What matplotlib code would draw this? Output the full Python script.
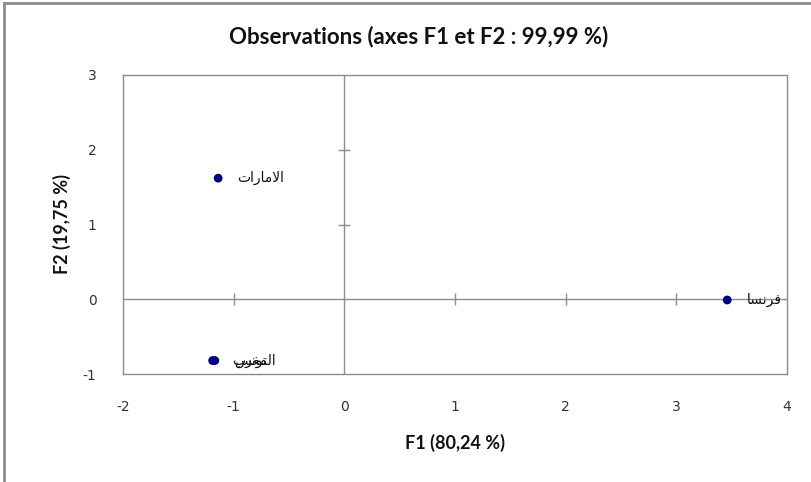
import matplotlib
matplotlib.use("Agg")
import matplotlib.pyplot as plt
from matplotlib.lines import Line2D

plt.rcParams["axes.unicode_minus"] = False

# ---- data ----
labels = ["الامارات", "فرنسا", "المغرب", "تونس"]
f1 = [-1.14, 3.46, -1.19, -1.17]
f2 = [1.62, -0.01, -0.82, -0.82]
xticks = [-2, -1, 0, 1, 2, 3, 4]
yticks = [-1, 0, 1, 2, 3]
title = "Observations (axes F1 et F2 : 99,99 %)"
xlabel = "F1 (80,24 %)"
ylabel = "F2 (19,75 %)"

# ---- minimal Arabic shaping (presentation forms) ----
FORMS = {  # isolated, final, initial, medial
    "ا": (0xFE8D, 0xFE8E, None, None),
    "ب": (0xFE8F, 0xFE90, 0xFE91, 0xFE92),
    "ت": (0xFE95, 0xFE96, 0xFE97, 0xFE98),
    "ر": (0xFEAD, 0xFEAE, None, None),
    "س": (0xFEB1, 0xFEB2, 0xFEB3, 0xFEB4),
    "غ": (0xFECD, 0xFECE, 0xFECF, 0xFED0),
    "ف": (0xFED1, 0xFED2, 0xFED3, 0xFED4),
    "ل": (0xFEDD, 0xFEDE, 0xFEDF, 0xFEE0),
    "م": (0xFEE1, 0xFEE2, 0xFEE3, 0xFEE4),
    "ن": (0xFEE5, 0xFEE6, 0xFEE7, 0xFEE8),
    "و": (0xFEED, 0xFEEE, None, None),
}


def dual(c):
    return c in FORMS and FORMS[c][2] is not None


def shape(word):
    out = []
    i = 0
    n = len(word)
    while i < n:
        c = word[i]
        prev = word[i - 1] if i > 0 else None
        jp = prev is not None and dual(prev)
        if c == "ل" and i + 1 < n and word[i + 1] == "ا":
            out.append(chr(0xFEFC if jp else 0xFEFB))
            i += 2
            continue
        nxt = word[i + 1] if i + 1 < n else None
        jn = nxt is not None and nxt in FORMS and dual(c)
        iso, fin, ini, med = FORMS[c]
        if jp and jn:
            code = med
        elif jp:
            code = fin
        elif jn:
            code = ini
        else:
            code = iso
        out.append(chr(code))
        i += 1
    return "".join(reversed(out))


W, H = 811, 482
fig = plt.figure(figsize=(W / 100, H / 100), dpi=100)
fig.patch.set_facecolor("white")

# plot area in pixel coordinates
L, R, T, B = 123, 787, 75, 374
ax = fig.add_axes([L / W, 1 - B / H, (R - L) / W, (B - T) / H])
ax.set_xlim(xticks[0], xticks[-1])
ax.set_ylim(yticks[0], yticks[-1])
ax.set_xticks(xticks)
ax.set_yticks(yticks)
for s in ax.spines.values():
    s.set_color("#8c8c8c")
    s.set_linewidth(1.0)
ax.tick_params(length=0, labelsize=10, colors="#333333")
ax.tick_params(axis="x", pad=19)
ax.tick_params(axis="y", pad=19)
for t in ax.get_xticklabels() + ax.get_yticklabels():
    t.set_fontfamily("DejaVu Sans")

# central axes with cross ticks
ax.axhline(0, color="#8c8c8c", lw=1.0, zorder=1)
ax.axvline(0, color="#8c8c8c", lw=1.0, zorder=1)
inner_x = [v for v in xticks[1:-1] if v != 0]
inner_y = [v for v in yticks[1:-1] if v != 0]
ax.plot(inner_x, [0] * len(inner_x), linestyle="none", marker="|",
        markersize=9, color="#8c8c8c", mew=1.0, zorder=1)
ax.plot([0] * len(inner_y), inner_y, linestyle="none", marker="_",
        markersize=9, color="#8c8c8c", mew=1.0, zorder=1)

ax.scatter(f1, f2, s=40, color="#00007f", zorder=3, edgecolors="none")
for x, y, lab in zip(f1, f2, labels):
    ax.annotate(shape(lab), (x, y), xytext=(14, 0), textcoords="offset points",
                va="center", ha="left", fontsize=10, family="DejaVu Sans",
                color="#111111", zorder=4)

ax.set_xlabel(xlabel, fontsize=13, fontweight="bold", family="Lato",
              color="#111111")
ax.set_ylabel(ylabel, fontsize=13, fontweight="bold", family="Lato",
              color="#111111")
ax.xaxis.set_label_coords(0.5, (B - 434) / (B - T))
ax.yaxis.set_label_coords((71 - L) / (R - L), 0.5)
fig.text(419 / W, 1 - 37 / H, title, ha="center", va="center",
         fontsize=16, fontweight="bold", family="Lato", color="#111111")

# outer frame (top and left edges visible)
fig.add_artist(Line2D([4 / W, 4 / W], [0, 1 - 3 / H], transform=fig.transFigure,
                      color="#8c8c8c", lw=2))
fig.add_artist(Line2D([4 / W, 1], [1 - 3 / H, 1 - 3 / H], transform=fig.transFigure,
                      color="#8c8c8c", lw=2))

fig.savefig("out.png", dpi=100)
